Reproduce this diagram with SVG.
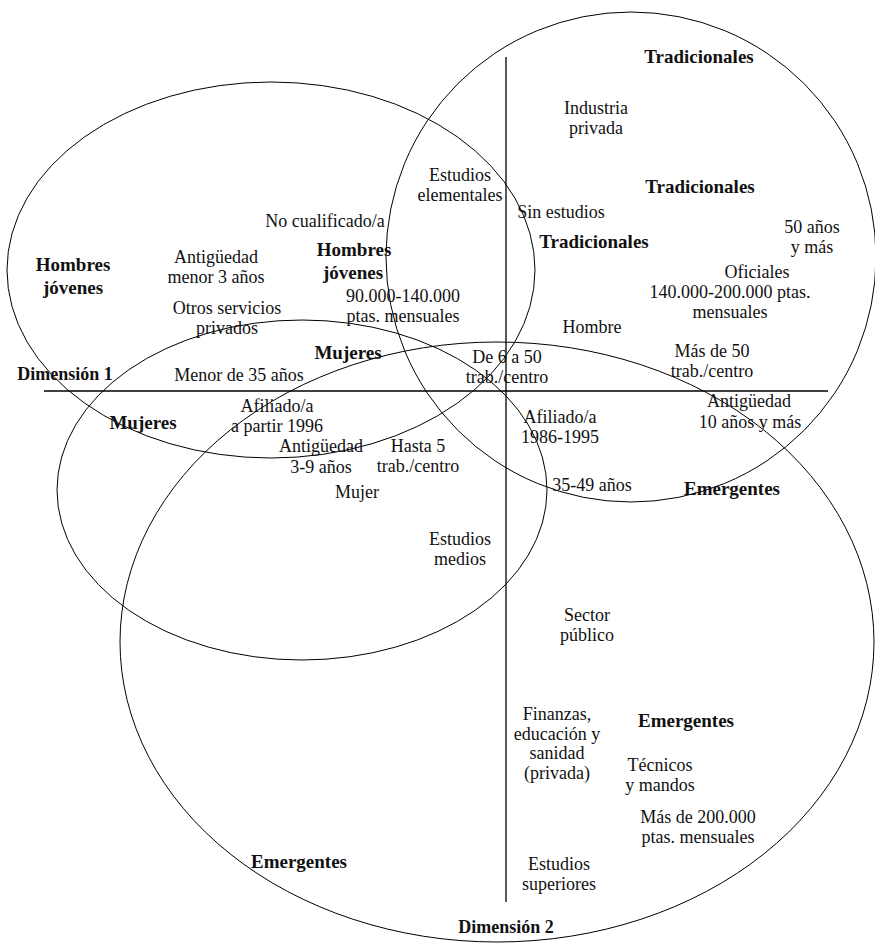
<svg xmlns="http://www.w3.org/2000/svg" width="875" height="944" viewBox="0 0 875 944">
<style>
.ell{fill:none;stroke:#000;stroke-width:1}
.ax{stroke:#000;stroke-width:1.3}
text{font-family:"Liberation Serif","DejaVu Serif",serif;fill:#111;text-anchor:middle}
.t{font-size:18px}
.b{font-size:19px;font-weight:bold}
.d{font-size:18px;font-weight:bold}
</style>
<rect width="875" height="944" fill="#fff"/>
<g id="ellipses">
<ellipse id="ell-hombres" class="ell" cx="271" cy="270" rx="264" ry="188"/>
<ellipse id="ell-tradicionales" class="ell" cx="631" cy="257" rx="245" ry="245"/>
<ellipse id="ell-mujeres" class="ell" cx="302" cy="490" rx="245" ry="170"/>
<ellipse id="ell-emergentes" class="ell" cx="497" cy="642" rx="377" ry="300"/>
</g>
<g id="axes">
<line class="ax" x1="44" y1="391" x2="828" y2="391"/>
<line class="ax" x1="506" y1="57" x2="506" y2="902"/>
</g>
<g id="dim1"><text class="d" x="65" y="380">Dimensión 1</text></g>
<g id="dim2"><text class="d" x="506" y="933">Dimensión 2</text></g>
<g id="g-trad1"><text class="b" x="699" y="63">Tradicionales</text></g>
<g id="g-trad2"><text class="b" x="700" y="193">Tradicionales</text></g>
<g id="g-trad3"><text class="b" x="594" y="248">Tradicionales</text></g>
<g id="g-hj1"><text class="b" x="73" y="271">Hombres</text><text class="b" x="73" y="294">jóvenes</text></g>
<g id="g-hj2"><text class="b" x="354" y="256">Hombres</text><text class="b" x="353" y="279">jóvenes</text></g>
<g id="g-muj1"><text class="b" x="348" y="359">Mujeres</text></g>
<g id="g-muj2"><text class="b" x="143" y="429">Mujeres</text></g>
<g id="g-em1"><text class="b" x="732" y="495">Emergentes</text></g>
<g id="g-em2"><text class="b" x="686" y="727">Emergentes</text></g>
<g id="g-em3"><text class="b" x="299" y="868">Emergentes</text></g>
<g id="n-industria"><text class="t" x="596" y="114">Industria</text><text class="t" x="596" y="134">privada</text></g>
<g id="n-est-elem"><text class="t" x="460" y="181">Estudios</text><text class="t" x="460" y="201">elementales</text></g>
<g id="n-sin-est"><text class="t" x="561" y="218">Sin estudios</text></g>
<g id="n-nocual"><text class="t" x="325" y="227">No cualificado/a</text></g>
<g id="n-50anos"><text class="t" x="812" y="233">50 años</text><text class="t" x="812" y="253">y más</text></g>
<g id="n-antig3"><text class="t" x="216" y="263">Antigüedad</text><text class="t" x="216" y="283">menor 3 años</text></g>
<g id="n-oficiales"><text class="t" x="757" y="278">Oficiales</text><text class="t" x="730" y="298">140.000-200.000 ptas.</text><text class="t" x="730" y="318">mensuales</text></g>
<g id="n-90000"><text class="t" x="403" y="302">90.000-140.000</text><text class="t" x="403" y="322">ptas. mensuales</text></g>
<g id="n-otros"><text class="t" x="227" y="314">Otros servicios</text><text class="t" x="227" y="334">privados</text></g>
<g id="n-hombre"><text class="t" x="592" y="333">Hombre</text></g>
<g id="n-mas50"><text class="t" x="712" y="357">Más de 50</text><text class="t" x="712" y="377">trab./centro</text></g>
<g id="n-de6"><text class="t" x="507" y="363">De 6 a 50</text><text class="t" x="507" y="383">trab./centro</text></g>
<g id="n-menor35"><text class="t" x="239" y="381">Menor de 35 años</text></g>
<g id="n-antig10"><text class="t" x="749" y="407">Antigüedad</text><text class="t" x="750" y="428">10 años y más</text></g>
<g id="n-afil96"><text class="t" x="277" y="412">Afiliado/a</text><text class="t" x="277" y="432">a partir 1996</text></g>
<g id="n-afil86"><text class="t" x="560" y="423">Afiliado/a</text><text class="t" x="560" y="443">1986-1995</text></g>
<g id="n-antig39"><text class="t" x="321" y="452">Antigüedad</text><text class="t" x="321" y="473">3-9 años</text></g>
<g id="n-hasta5"><text class="t" x="418" y="452">Hasta 5</text><text class="t" x="418" y="472">trab./centro</text></g>
<g id="n-3549"><text class="t" x="592" y="491">35-49 años</text></g>
<g id="n-mujer"><text class="t" x="357" y="498">Mujer</text></g>
<g id="n-est-med"><text class="t" x="460" y="545">Estudios</text><text class="t" x="460" y="565">medios</text></g>
<g id="n-sector"><text class="t" x="587" y="621">Sector</text><text class="t" x="587" y="641">público</text></g>
<g id="n-finanzas"><text class="t" x="557" y="720">Finanzas,</text><text class="t" x="557" y="740">educación y</text><text class="t" x="557" y="759">sanidad</text><text class="t" x="557" y="779">(privada)</text></g>
<g id="n-tecnicos"><text class="t" x="660" y="771">Técnicos</text><text class="t" x="660" y="791">y mandos</text></g>
<g id="n-mas200"><text class="t" x="698" y="823">Más de 200.000</text><text class="t" x="698" y="843">ptas. mensuales</text></g>
<g id="n-est-sup"><text class="t" x="559" y="870">Estudios</text><text class="t" x="559" y="890">superiores</text></g>
</svg>
